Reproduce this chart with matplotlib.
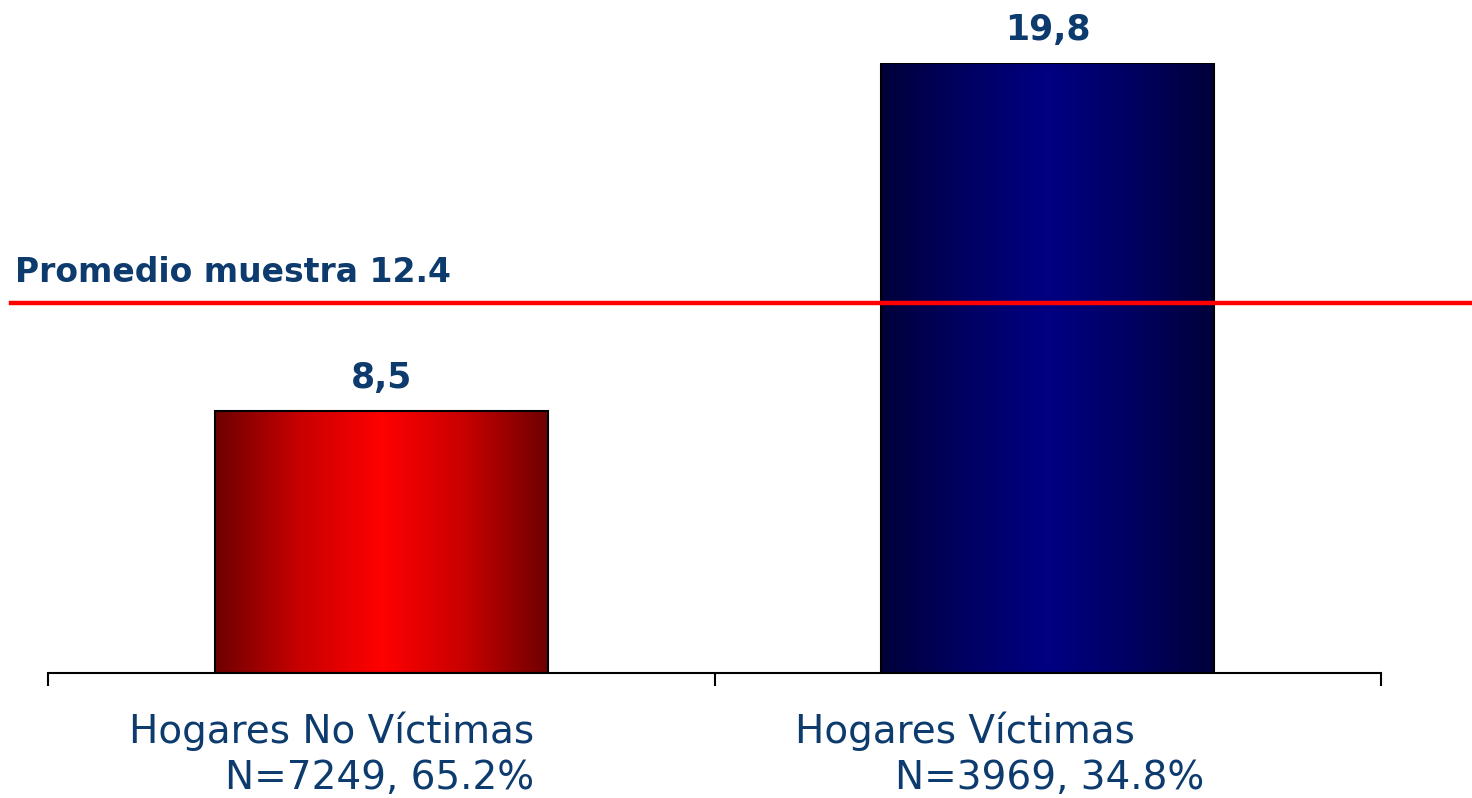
import numpy as np
import matplotlib.pyplot as plt
from matplotlib.colors import LinearSegmentedColormap

# data
categories = ["Hogares No Víctimas", "Hogares Víctimas"]
sublabels = ["N=7249, 65.2%", "N=3969, 34.8%"]
values = [8.5, 19.8]
value_labels = ["8,5", "19,8"]
promedio_label = "Promedio muestra 12.4"
promedio_line = 12.0

text_color = "#0d3b6e"
gradients = [
    ["#6e0000", "#c80000", "#ff0000", "#c80000", "#6e0000"],
    ["#00003a", "#000062", "#000082", "#000062", "#00003a"],
]


def generate_chart():

    fig = plt.figure(figsize=(14.72, 7.98), dpi=100)
    ax = fig.add_axes([0.0326, 0.1566, 0.9056, 0.7644])

    x = np.arange(len(categories))
    bars = ax.bar(x, values, width=0.5, facecolor="none",
                  edgecolor="black", linewidth=1.5, zorder=3)

    # gradient fill clipped to each bar
    grad = np.linspace(0, 1, 256).reshape(1, -1)
    for bar, cols in zip(bars, gradients):
        cmap = LinearSegmentedColormap.from_list("g", cols)
        x0, y0 = bar.get_x(), bar.get_y()
        w, h = bar.get_width(), bar.get_height()
        im = ax.imshow(grad, cmap=cmap, aspect="auto",
                       extent=[x0, x0 + w, y0, y0 + h], zorder=2)
        im.set_clip_path(bar)

    ax.set_xlim(-0.5, len(categories) - 0.5)
    ax.set_ylim(0, max(values))

    # value labels
    for xi, v, lab in zip(x, values, value_labels):
        ax.annotate(lab, (xi, v), xytext=(0, 24), textcoords="offset points",
                    ha="center", va="center", fontsize=25,
                    fontweight="bold", color=text_color, annotation_clip=False)

    # sample mean line
    ax.axhline(promedio_line, xmin=-0.028, xmax=1.07, color="#ff0000",
               linewidth=3.2, clip_on=False, zorder=4)
    ax.text(-0.5495, promedio_line + 1.0, promedio_label, ha="left",
            va="center", fontsize=23.8, fontweight="bold", color=text_color)

    # axis styling
    for side in ["top", "right", "left"]:
        ax.spines[side].set_visible(False)
    ax.spines["bottom"].set_linewidth(1.5)
    ax.set_yticks([])
    ax.set_xticks(np.arange(len(categories) + 1) - 0.5)
    ax.set_xticklabels([])
    ax.tick_params(axis="x", length=9, width=1.5, direction="out")

    # category labels
    offsets = [-0.074, -0.125]
    sub_offsets = [-0.002, 0.003]
    for xi, cat, sub, off, soff in zip(x, categories, sublabels,
                                       offsets, sub_offsets):
        ax.text(xi + off, -1.9, cat, ha="center", va="center",
                fontsize=28, color=text_color, clip_on=False)
        ax.text(xi + soff, -3.4, sub, ha="center", va="center",
                fontsize=28, color=text_color, clip_on=False)

    fig.savefig("out.png", dpi=100)


if __name__ == "__main__":

    generate_chart()
